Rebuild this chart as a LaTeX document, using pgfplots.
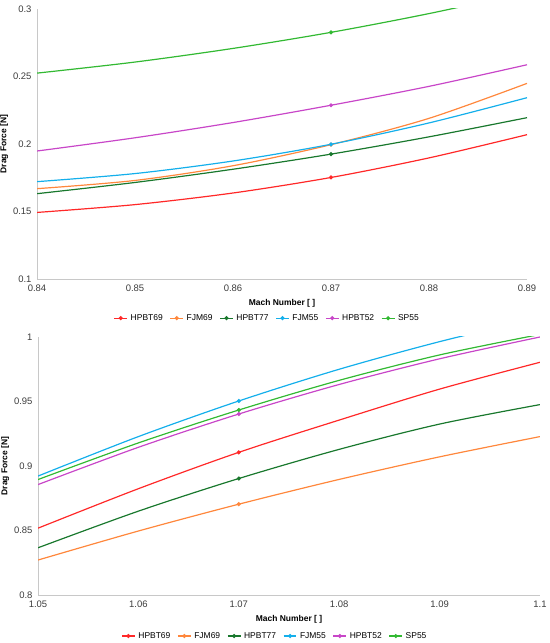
\documentclass[border=0pt]{standalone}
\usepackage{pgfplots}
\pgfplotsset{compat=1.18}
\usepackage{fontspec}
\setmainfont{Liberation Sans}
\definecolor{cHA}{RGB}{255,40,40}
\definecolor{cFA}{RGB}{255,135,60}
\definecolor{cHB}{RGB}{25,120,45}
\definecolor{cFB}{RGB}{20,175,235}
\definecolor{cHC}{RGB}{200,70,200}
\definecolor{cSP}{RGB}{50,185,50}
\definecolor{axgray}{RGB}{200,200,200}
\definecolor{txgray}{RGB}{60,60,60}
\pgfplotsset{
  mystyle/.style={
    scale only axis,
    axis x line*=bottom, axis y line*=left,
    axis line style={axgray, line width=0.7pt},
    major tick length=0pt,
    tick label style={font=\fontsize{9.5}{10}\selectfont, text=txgray},
    yticklabel style={xshift=-2pt},
    xticklabel style={yshift=-2pt},
    /pgf/number format/assume math mode=true,
    /pgf/number format/fixed,
    /pgf/number format/precision=2,
    xlabel style={font=\bfseries\fontsize{8.5}{10}\selectfont, text=black, yshift=-1pt},
    ylabel style={font=\bfseries\fontsize{8.5}{10}\selectfont, text=black, yshift=-2pt},
    xlabel={Mach Number [ ]},
    ylabel={Drag Force [N]},
    legend columns=6,
    legend style={draw=none, font=\fontsize{8.5}{10}\selectfont, column sep=1pt, /tikz/every even column/.append style={column sep=5pt}},
    legend image code/.code={\draw[#1, line width=1.2pt] (0cm,0cm) -- (0.45cm,0cm); \fill[#1] (0.225cm,0cm) circle (1.4pt);},
    every axis plot/.append style={line width=1.2pt, smooth, mark=*, mark size=1.4pt},
  }
}
\begin{document}
\begin{tikzpicture}
\path[use as bounding box] (0,0) rectangle (550bp,643bp);
\begin{axis}[mystyle,
  at={(37bp,364bp)}, anchor=south west,
  width=490bp, height=270bp,
  xmin=0.84, xmax=0.89, ymin=0.1, ymax=0.3,
  xtick={0.84,0.85,0.86,0.87,0.88,0.89},
  ytick={0.1,0.15,0.2,0.25,0.3},
  yticklabels={0.1,0.15,0.2,0.25,0.3},
  legend style={at={(0.47,-0.145)}, anchor=center},
  every axis plot/.append style={mark indices={4}},
]
\addplot[cHA, mark options={fill=cHA}] coordinates {(0.84,0.1493) (0.85,0.1551) (0.86,0.1637) (0.87,0.1752) (0.88,0.1897) (0.89,0.2069)};
\addlegendentry{HPBT69}
\addplot[cFA, mark options={fill=cFA}] coordinates {(0.84,0.1669) (0.85,0.1730) (0.86,0.1839) (0.87,0.1995) (0.88,0.2190) (0.89,0.2449)};
\addlegendentry{FJM69}
\addplot[cHB, mark options={fill=cHB}] coordinates {(0.84,0.1632) (0.85,0.1715) (0.86,0.1813) (0.87,0.1925) (0.88,0.2053) (0.89,0.2195)};
\addlegendentry{HPBT77}
\addplot[cFB, mark options={fill=cFB}] coordinates {(0.84,0.1721) (0.85,0.1781) (0.86,0.1874) (0.87,0.1998) (0.88,0.2156) (0.89,0.2343)};
\addlegendentry{FJM55}
\addplot[cHC, mark options={fill=cHC}] coordinates {(0.84,0.1948) (0.85,0.2046) (0.86,0.2159) (0.87,0.2287) (0.88,0.2427) (0.89,0.2587)};
\addlegendentry{HPBT52}
\addplot[cSP, mark options={fill=cSP}] coordinates {(0.84,0.2525) (0.85,0.2607) (0.86,0.2708) (0.87,0.2827) (0.88,0.2966) (0.89,0.3124)};
\addlegendentry{SP55}
\end{axis}
\begin{axis}[mystyle,
  at={(38bp,48bp)}, anchor=south west,
  width=502bp, height=258bp,
  xmin=1.05, xmax=1.1, ymin=0.8, ymax=1,
  xtick={1.05,1.06,1.07,1.08,1.09,1.1},
  xticklabels={1.05,1.06,1.07,1.08,1.09,1.1},
  ytick={0.8,0.85,0.9,0.95,1},
  yticklabels={0.8,0.85,0.9,0.95,1},
  legend style={at={(0.472,-0.159)}, anchor=center},
  every axis plot/.append style={mark indices={3}},
]
\addplot[cHA, mark options={fill=cHA}] coordinates {(1.05,0.8518) (1.06,0.8824) (1.07,0.9106) (1.08,0.9356) (1.09,0.9596) (1.10,0.9804)};
\addlegendentry{HPBT69}
\addplot[cFA, mark options={fill=cFA}] coordinates {(1.05,0.8271) (1.06,0.8496) (1.07,0.8704) (1.08,0.8896) (1.09,0.9071) (1.10,0.9228)};
\addlegendentry{FJM69}
\addplot[cHB, mark options={fill=cHB}] coordinates {(1.05,0.8366) (1.06,0.8650) (1.07,0.8903) (1.08,0.9129) (1.09,0.9325) (1.10,0.9476)};
\addlegendentry{HPBT77}
\addplot[cFB, mark options={fill=cFB}] coordinates {(1.05,0.8922) (1.06,0.9228) (1.07,0.9504) (1.08,0.9750) (1.09,0.9964) (1.10,1.0150)};
\addlegendentry{FJM55}
\addplot[cHC, mark options={fill=cHC}] coordinates {(1.05,0.8856) (1.06,0.9145) (1.07,0.9403) (1.08,0.9632) (1.09,0.9831) (1.10,1.0000)};
\addlegendentry{HPBT52}
\addplot[cSP, mark options={fill=cSP}] coordinates {(1.05,0.8895) (1.06,0.9179) (1.07,0.9434) (1.08,0.9664) (1.09,0.9861) (1.10,1.0020)};
\addlegendentry{SP55}
\end{axis}
\end{tikzpicture}
\end{document}
